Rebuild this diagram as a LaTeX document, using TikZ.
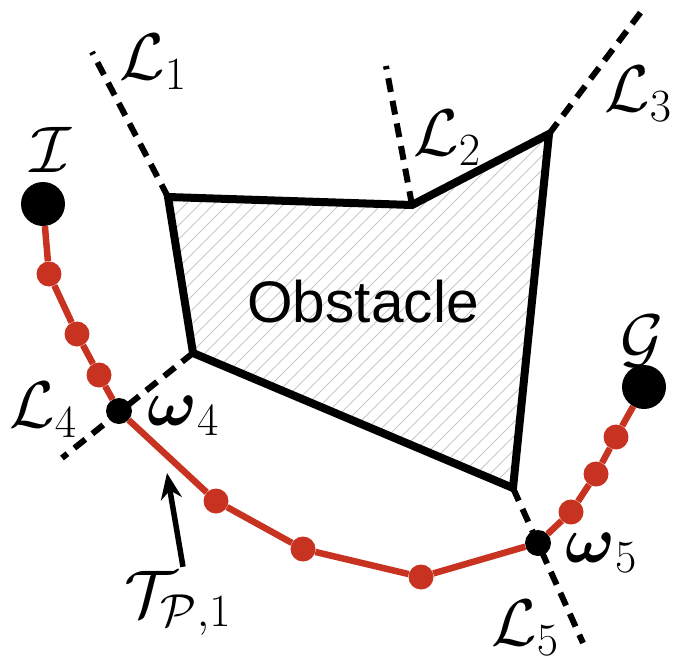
\documentclass[tikz,border=0pt]{standalone}
\usepackage{fix-cm}
\usepackage{amsmath}
\usepackage{fontspec}
\newfontfamily\obsfont{Liberation Sans}
\usetikzlibrary{arrows.meta}
\definecolor{pathred}{RGB}{200,50,32}
\tikzset{
  hatchline/.style={gray!45, line width=0.9pt},
  obstacleedge/.style={draw=black, line width=8pt, line join=miter},
  dashline/.style={black, line width=6pt, dash pattern=on 14pt off 9pt},
  redpath/.style={pathred, line width=6.5pt},
  reddot/.style={circle, fill=pathred, minimum size=25pt, inner sep=0pt},
  bigdot/.style={circle, fill=black, minimum size=44pt, inner sep=0pt},
  waydot/.style={circle, fill=black, minimum size=26pt, inner sep=0pt},
  lbl/.style={inner sep=0pt, font=\fontsize{66}{70}\selectfont},
  pointer/.style={black, line width=5.5pt, -{Stealth[length=26pt, width=21pt]}}
}
\begin{document}
\begin{tikzpicture}[x=1pt, y=-1pt]
\useasboundingbox (0,0) rectangle (675,664);
% obstacle vertices
\coordinate (v1) at (168,197);
\coordinate (v2) at (412,205);
\coordinate (v3) at (549,134);
\coordinate (v4) at (513,488);
\coordinate (v5) at (193,353);
% hatching
\begin{scope}
  \clip (v1) -- (v2) -- (v3) -- (v4) -- (v5) -- cycle;
  \foreach \k in {150,164,...,1000} \draw[hatchline] (\k,100) -- (\k-420,520);
\end{scope}
\draw[obstacleedge] (v1) -- (v2) -- (v3) -- (v4) -- (v5) -- cycle;
\node[font=\obsfont\fontsize{58.6}{60}\selectfont, anchor=base, inner sep=0pt] (obs) at (363,322) {Obstacle};
% dashed lines ends
\coordinate (e1) at (92,52);
\coordinate (e2) at (386,66);
\coordinate (e3) at (644,8);
\coordinate (e4) at (62,458);
\coordinate (e5) at (583,643);
\draw[dashline] (v1) -- (e1);
\draw[dashline] (v2) -- (e2);
\draw[dashline] (v3) -- (e3);
\draw[dashline] (v5) -- (e4);
\draw[dashline] (v4) -- (e5);
% path points
\node[bigdot] (I) at (43,204) {};
\node[reddot] (r1) at (49,274) {};
\node[reddot] (r2) at (77,334) {};
\node[reddot] (r3) at (99,375) {};
\node[waydot] (w4) at (119,411) {};
\node[reddot] (r4) at (216,501) {};
\node[reddot] (r5) at (303,549) {};
\node[reddot] (r6) at (421,577) {};
\node[waydot] (w5) at (538,543) {};
\node[reddot] (r7) at (571,512) {};
\node[reddot] (r8) at (596,474) {};
\node[reddot] (r9) at (616,437) {};
\node[bigdot] (G) at (644,387) {};
\draw[redpath] (I) -- (r1) -- (r2) -- (r3) -- (w4) -- (r4) -- (r5) -- (r6) -- (w5) -- (r7) -- (r8) -- (r9) -- (G);
% labels
\node[lbl] (lI) at (51,150) {$\mathcal{I}$};
\node[lbl] (lG) at (642,341) {$\mathcal{G}$};
\node[lbl] (l1) at (153,62) {$\mathcal{L}_1$};
\node[lbl] (l2) at (447,138) {$\mathcal{L}_2$};
\node[lbl] (l3) at (638,94) {$\mathcal{L}_3$};
\node[lbl] (l4) at (43,410) {$\mathcal{L}_4$};
\node[lbl] (l5) at (525,628) {$\mathcal{L}_5$};
\node[lbl] (lw4) at (183,416) {$\boldsymbol{\omega}_4$};
\node[lbl] (lw5) at (601,553) {$\boldsymbol{\omega}_5$};
\node[lbl] (lT) at (178,603) {$\mathcal{T}_{\mathcal{P},1}$};
\coordinate (tip) at (167,473);
\draw[pointer] (lT.north) ++(5,-4) coordinate (tail) -- (tip);
\end{tikzpicture}
\end{document}
